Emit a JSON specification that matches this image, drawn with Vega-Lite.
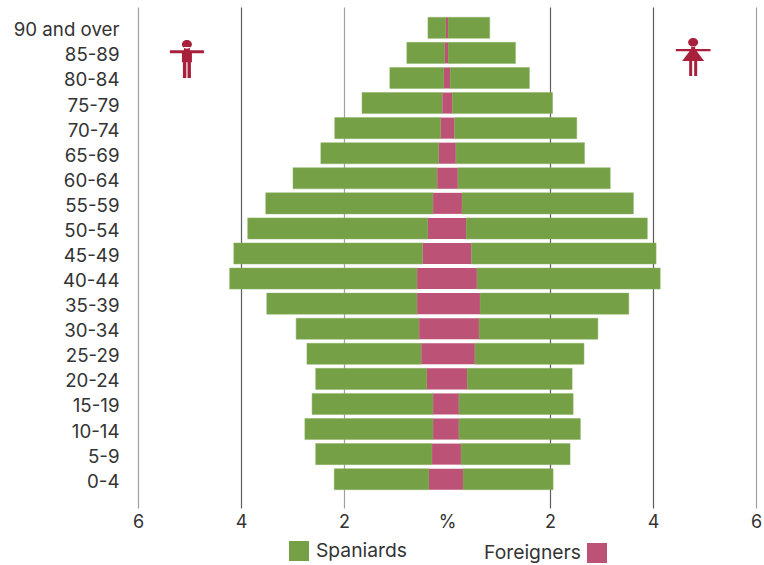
{
"$schema":"https://vega.github.io/schema/vega-lite/v6.json",
"width":618,"height":501,
"autosize":"none",
"padding":{"left":138,"top":7,"right":8,"bottom":57},
"background":"white",
"config":{"view":{"stroke":null},"font":"Inter"},
"datasets":{
"rows":[
{"age":"90 and over","a":-0.37,"b":-0.02,"c":0.02,"d":0.83},
{"age":"85-89","a":-0.78,"b":-0.04,"c":0.02,"d":1.33},
{"age":"80-84","a":-1.11,"b":-0.06,"c":0.06,"d":1.60},
{"age":"75-79","a":-1.65,"b":-0.09,"c":0.10,"d":2.05},
{"age":"70-74","a":-2.18,"b":-0.12,"c":0.14,"d":2.52},
{"age":"65-69","a":-2.45,"b":-0.16,"c":0.17,"d":2.67},
{"age":"60-64","a":-2.99,"b":-0.19,"c":0.21,"d":3.17},
{"age":"55-59","a":-3.52,"b":-0.27,"c":0.29,"d":3.62},
{"age":"50-54","a":-3.87,"b":-0.37,"c":0.37,"d":3.89},
{"age":"45-49","a":-4.14,"b":-0.47,"c":0.47,"d":4.06},
{"age":"40-44","a":-4.22,"b":-0.58,"c":0.58,"d":4.14},
{"age":"35-39","a":-3.50,"b":-0.58,"c":0.64,"d":3.53},
{"age":"30-34","a":-2.93,"b":-0.54,"c":0.62,"d":2.93},
{"age":"25-29","a":-2.72,"b":-0.50,"c":0.54,"d":2.66},
{"age":"20-24","a":-2.55,"b":-0.39,"c":0.39,"d":2.43},
{"age":"15-19","a":-2.62,"b":-0.27,"c":0.23,"d":2.45},
{"age":"10-14","a":-2.76,"b":-0.27,"c":0.23,"d":2.59},
{"age":"5-9","a":-2.55,"b":-0.29,"c":0.27,"d":2.39},
{"age":"0-4","a":-2.19,"b":-0.35,"c":0.31,"d":2.06}
],
"icons":[{"age":"85-89","x":-5.05}],
"iconsF":[{"age":"85-89","x":4.78}]
},
"data":{"name":"rows"},
"encoding":{
"y":{"field":"age","type":"nominal","sort":null,
"scale":{"paddingInner":0.16,"paddingOuter":0.57,"align":0.36},
"axis":{"title":null,"domain":false,"ticks":false,"labelPadding":19,"labelFontSize":18.7,"labelColor":"#333333","labelFont":"Inter","labelOffset":2.5}}
},
"layer":[
{"mark":{"type":"bar","color":"#76a045","stroke":"#8fb368","strokeWidth":0.5},
"encoding":{"x":{"field":"a","type":"quantitative","scale":{"domain":[-6,6],"nice":false},
"axis":{"title":null,"domain":false,"ticks":false,"values":[-6,-4,-2,0,2,4,6],"labelPadding":5,"labelFontSize":18,"labelColor":"#333333","labelFont":"Inter","labelFlush":false,
"labelExpr":"datum.value==0?'%':abs(datum.value)",
"grid":true,"gridColor":{"condition":[{"test":"datum.value==0","value":"transparent"},{"test":"abs(datum.value)==6||datum.value==-2","value":"#a0a0a0"}],"value":"#5e5e5e"},"gridWidth":1.2,"zindex":0}},
"x2":{"field":"b"},
"color":{"datum":"Spaniards","type":"nominal","scale":{"domain":["Spaniards"],"range":["#76a045"]},
"legend":{"title":null,"orient":"none","legendX":151,"legendY":534,"symbolType":"square","symbolSize":400,"symbolOpacity":1,"symbolStrokeWidth":0,"labelFontSize":19.3,"labelColor":"#333333","labelFont":"Inter","labelOffset":7}}}},
{"mark":{"type":"bar","color":"#76a045","stroke":"#8fb368","strokeWidth":0.5},
"encoding":{"x":{"field":"c","type":"quantitative"},"x2":{"field":"d"}}},
{"mark":{"type":"bar"},
"encoding":{"x":{"field":"b","type":"quantitative"},"x2":{"field":"c"},
"color":{"datum":"Foreigners","type":"nominal","scale":{"domain":["Foreigners"],"range":["#bd5277"]},
"legend":{"title":null,"orient":"none","legendX":449,"legendY":536,"symbolType":"square","symbolSize":400,"symbolOpacity":1,"symbolStrokeWidth":0,"labelFontSize":19.3,"labelColor":"#333333","labelFont":"Inter","labelAlign":"right","labelOffset":-26}}}},
{"data":{"name":"icons"},
"mark":{"type":"point","filled":true,"opacity":1,"color":"#a8203c","size":1600,"shape":"M-0.25,-0.43a0.25,0.22 0 1 0 0.5,0a0.25,0.22 0 1 0 -0.5,0Z M-0.85,-0.13H0.85V0.02H0.25V0.47H0.2V1.25H0.03V0.47H-0.03V1.25H-0.2V0.47H-0.25V0.02H-0.85Z M-0.15,-0.3H0.15V-0.13H-0.15Z"},
"encoding":{"x":{"field":"x","type":"quantitative"}}},
{"data":{"name":"iconsF"},
"mark":{"type":"point","filled":true,"opacity":1,"color":"#a8203c","size":1600,"shape":"M-0.25,-0.53a0.25,0.22 0 1 0 0.5,0a0.25,0.22 0 1 0 -0.5,0Z M-0.87,-0.2H0.87V-0.08H0.18L0.55,0.4H0.2V1.15H0.05V0.4H-0.05V1.15H-0.2V0.4H-0.55L-0.18,-0.08H-0.87Z M-0.1,-0.35H0.1V-0.2H-0.1Z"},
"encoding":{"x":{"field":"x","type":"quantitative"}}}
],
"resolve":{"scale":{"color":"independent"}}
}
